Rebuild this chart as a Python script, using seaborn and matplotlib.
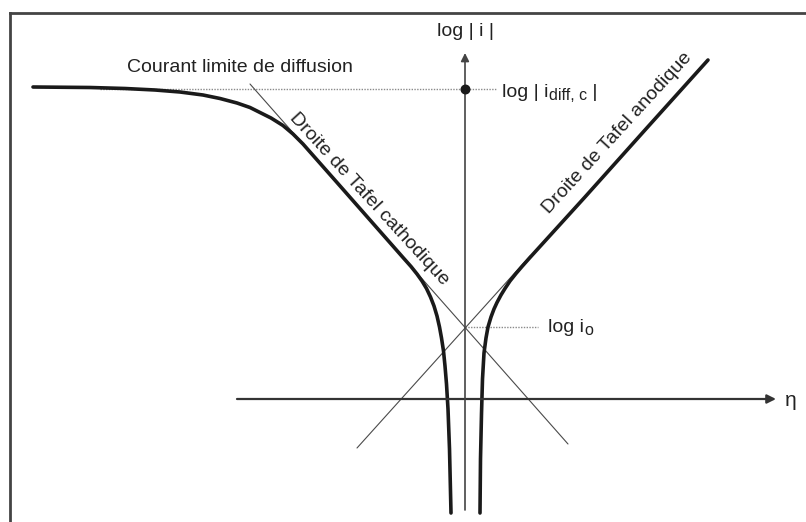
import matplotlib
matplotlib.use("Agg")
import matplotlib.pyplot as plt
import pandas as pd
import seaborn as sns

# Overpotential (eta) and log|i| in arbitrary schematic units
cath_eta = [-8.64, -7.50, -6.80, -6.20, -5.70, -5.24, -4.90, -4.56, -4.30, -4.10,
            -3.88, -3.64, -3.44, -3.24, -2.56, -1.90, -1.24, -1.08, -0.96, -0.86,
            -0.77, -0.69, -0.62, -0.56, -0.51, -0.47, -0.43, -0.40, -0.37, -0.34,
            -0.31, -0.28]
cath_logi = [6.24, 6.23, 6.21, 6.18, 6.14, 6.08, 6.01, 5.92, 5.83, 5.73,
             5.62, 5.47, 5.30, 5.10, 4.33, 3.58, 2.83, 2.65, 2.50, 2.36,
             2.21, 2.04, 1.86, 1.66, 1.44, 1.22, 0.96, 0.66, 0.30, -0.20,
             -1.00, -2.28]

anod_eta = [0.30, 0.31, 0.33, 0.35, 0.38, 0.42, 0.46, 0.52, 0.58, 0.64,
            0.72, 0.80, 0.90, 1.02, 1.14, 1.30, 1.60, 2.40, 3.60, 4.86]
anod_logi = [-2.28, -1.20, -0.30, 0.40, 0.92, 1.22, 1.44, 1.64, 1.80, 1.93,
             2.08, 2.21, 2.36, 2.51, 2.65, 2.83, 3.16, 4.04, 5.38, 6.78]

# Tafel asymptotes (thin straight lines)
tafel_cath_eta = [-4.30, 2.06]
tafel_cath_logi = [6.30, -0.90]
tafel_anod_eta = [-2.16, 1.30]
tafel_anod_logi = [-0.98, 2.86]

log_i0 = 1.44
log_idiff = 6.20
diff_line_eta = [-7.30, 0.64]
i0_line_eta = [0.0, 1.46]

eta_axis = [-4.56, 6.22]
logi_axis = [-2.22, 6.92]

sns.set_theme(style="white")
plt.rcParams["font.family"] = ["Liberation Sans", "DejaVu Sans"]

W, H = 806, 522
fig = plt.figure(figsize=(W / 100, H / 100), dpi=100)
ax = fig.add_axes([10 / W, 0, (W - 10) / W, (H - 13) / H])
ax.set_xlim(-9.1, 6.82)
ax.set_ylim(-2.46, 7.72)
ax.set_xticks([])
ax.set_yticks([])
for side in ("right", "bottom"):
    ax.spines[side].set_visible(False)
for side in ("left", "top"):
    ax.spines[side].set_linewidth(2.0)
    ax.spines[side].set_color("#444444")

ink = "#1a1a1a"
thin = "#4a4a4a"

# Coordinate axes with arrow heads
ax.annotate("", xy=(eta_axis[1], 0), xytext=(eta_axis[0], 0),
            arrowprops=dict(arrowstyle="-|>", lw=1.6, color="#333333",
                            mutation_scale=13, shrinkA=0, shrinkB=0))
ax.annotate("", xy=(0, logi_axis[1]), xytext=(0, logi_axis[0]),
            arrowprops=dict(arrowstyle="-|>", lw=1.2, color="#444444",
                            mutation_scale=12, shrinkA=0, shrinkB=0))

# Dotted reference levels
ax.plot(diff_line_eta, [log_idiff, log_idiff], color="#8a8a8a", lw=1.0,
        ls=(0, (1, 1)))
ax.plot(i0_line_eta, [log_i0, log_i0], color="#8a8a8a", lw=1.0,
        ls=(0, (1, 1)))

# Tafel asymptotes
sns.lineplot(x=tafel_cath_eta, y=tafel_cath_logi, ax=ax, color=thin, lw=0.8,
             sort=False, estimator=None)
sns.lineplot(x=tafel_anod_eta, y=tafel_anod_logi, ax=ax, color=thin, lw=0.8,
             sort=False, estimator=None)

# Polarisation curves
cath = pd.DataFrame({"eta": cath_eta, "logi": cath_logi})
anod = pd.DataFrame({"eta": anod_eta, "logi": anod_logi})
sns.lineplot(data=cath, x="eta", y="logi", ax=ax, color=ink, lw=2.6,
             sort=False, estimator=None)
sns.lineplot(data=anod, x="eta", y="logi", ax=ax, color=ink, lw=2.6,
             sort=False, estimator=None)

ax.scatter([0], [log_idiff], s=38, color=ink, zorder=5)

ax.set_xlabel("")
ax.set_ylabel("")

fs = 14
fs_sub = 11.5
tc = "#222222"
ax.text(-4.5, 6.62, "Courant limite de diffusion", fontsize=fs, color=tc,
        ha="center", va="center")
ax.text(0.02, 7.34, "log | i |", fontsize=fs, color=tc, ha="center", va="center")

# log | i_diff,c | built from pieces so the subscript keeps a readable size
t_main = ax.text(0.74, 6.04, "log | i", fontsize=fs, color=tc,
                 ha="left", va="baseline")
t_sub = ax.annotate("diff, c", xy=(1, 0), xycoords=t_main,
                    xytext=(0.5, -1.5), textcoords="offset points",
                    fontsize=fs_sub, color=tc, ha="left", va="bottom")
ax.annotate(" |", xy=(1, 0), xycoords=(t_sub, t_main),
            xytext=(0, 0), textcoords="offset points",
            fontsize=fs, color=tc, ha="left", va="bottom")

t_i0 = ax.text(1.66, 1.34, "log i", fontsize=fs, color=tc,
               ha="left", va="baseline")
ax.annotate("o", xy=(1, 0), xycoords=t_i0, xytext=(0.5, -1.5),
            textcoords="offset points", fontsize=fs_sub, color=tc,
            ha="left", va="bottom")

ax.text(6.40, -0.02, "η", fontsize=fs + 1, color=tc, ha="left", va="center")
ax.text(-1.92, 4.00, "Droite de Tafel cathodique", fontsize=fs, color=tc,
        ha="center", va="center", rotation=-47.5, rotation_mode="anchor")
ax.text(3.04, 5.32, "Droite de Tafel anodique", fontsize=fs, color=tc,
        ha="center", va="center", rotation=47.5, rotation_mode="anchor")

fig.savefig("out.png", dpi=100)
